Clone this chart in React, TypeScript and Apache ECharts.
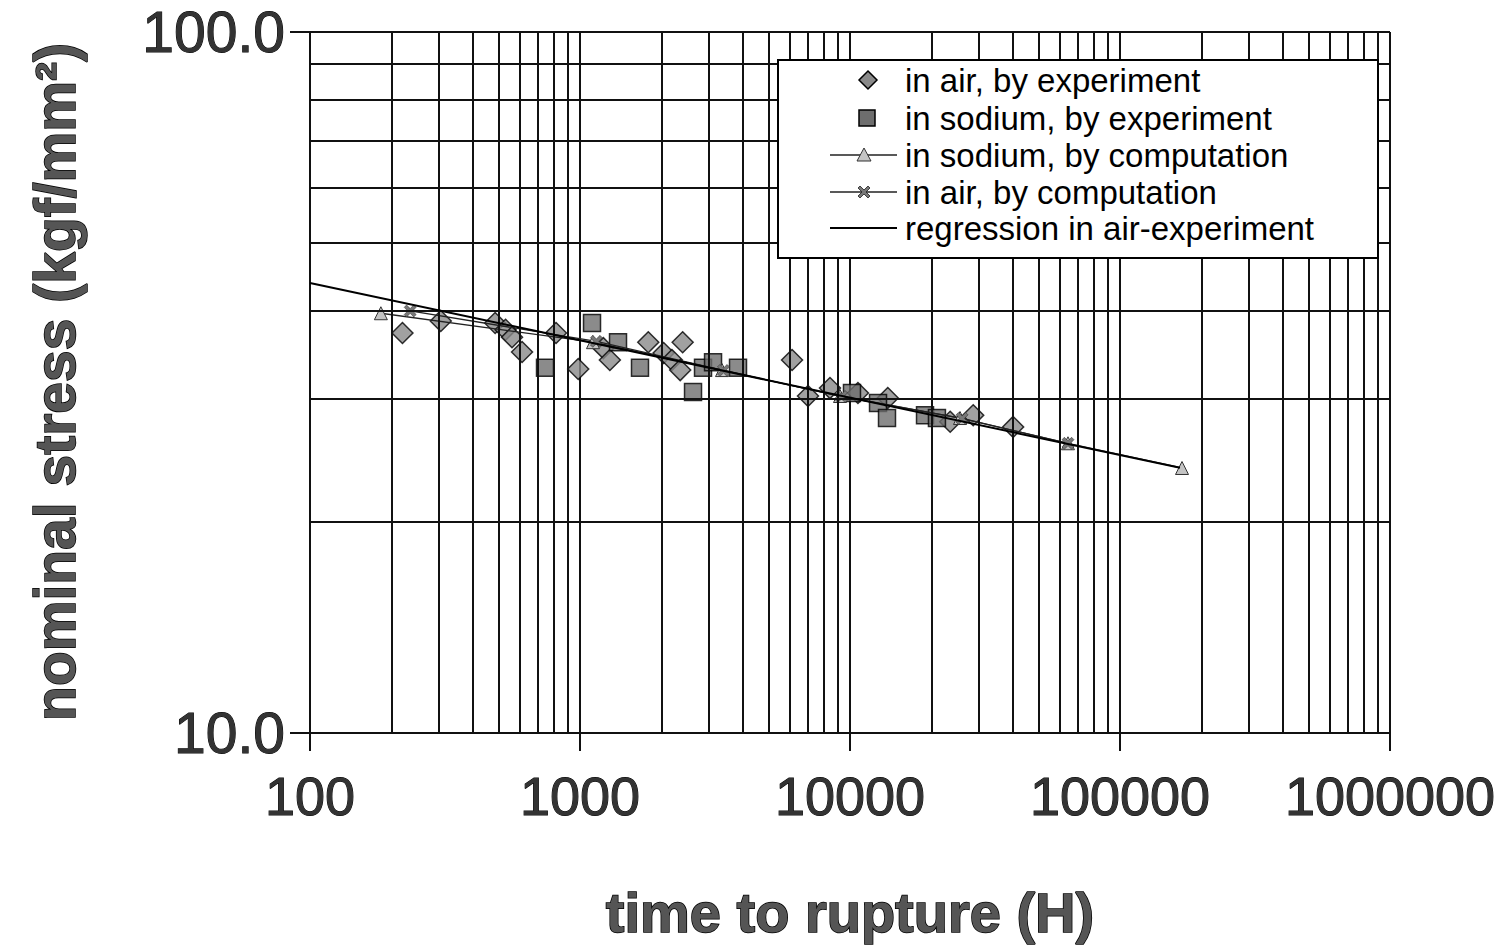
import React, { useEffect, useRef } from "react";
import * as echarts from "echarts";

// ---- data ----
const airExpTime = [220, 305, 485, 530, 560, 610, 815, 985, 1220, 1290, 1790, 2040, 2190, 2350, 2400, 6100, 6990, 8430, 10700, 13800, 23500, 28600, 40200];
const airExpStress = [37.2, 38.7, 38.45, 37.6, 36.7, 34.96, 37.2, 33.05, 35.4, 34.05, 36.1, 34.84, 34.05, 32.94, 36.1, 34.05, 30.25, 31.05, 30.55, 30.05, 27.8, 28.4, 27.33];

const sodiumExpTime = [742, 1108, 1383, 1668, 2622, 2855, 3110, 3848, 10170, 12700, 13710, 18960, 20990];
const sodiumExpStress = [33.2, 38.45, 36.1, 33.2, 30.65, 33.2, 33.8, 33.2, 30.55, 29.56, 28.14, 28.4, 28.14];

const sodiumCompTime = [183, 1117, 3357, 9183, 25550, 64170, 169700];
const sodiumCompStress = [39.7, 36.1, 32.94, 30.25, 28.14, 25.9, 23.88];

const airCompTime = [235, 1150, 3400, 9300, 26000, 64170];
const airCompStress = [40.0, 36.2, 32.9, 30.2, 28.1, 25.9];

const regressionTime = [100, 166800];
const regressionStress = [43.85, 23.9];

const xMinorGrid = [200, 300, 400, 500, 600, 700, 800, 900, 2000, 3000, 4000, 5000, 6000, 7000, 8000, 9000, 20000, 30000, 40000, 50000, 60000, 70000, 80000, 90000, 200000, 300000, 400000, 500000, 600000, 700000, 800000, 900000];
const yMinorGrid = [20, 30, 40, 50, 60, 70, 80, 90];

const seriesNames = [
  "in air, by experiment",
  "in sodium, by experiment",
  "in sodium, by computation",
  "in air, by computation",
  "regression in air-experiment",
];

const xTitle = "time to rupture (H)";
const yTitle = "nominal stress (kgf/mm\u00B2)";

const zip = (a: number[], b: number[]) => a.map((v, i) => [v, b[i]]);

const FONT = '"Liberation Sans", Arial, sans-serif';
const X_SYMBOL = "path://M2,0 L5,3 L8,0 L10,2 L7,5 L10,8 L8,10 L5,7 L2,10 L0,8 L3,5 L0,2 Z";

const DIAMOND_FILL = "#8a8a8a";
const SQUARE_FILL = "#6e6e6e";
const TRI_FILL = "#c4c4c4";
const X_FILL = "#777";

function buildLegend() {
  const boxX = 778, boxY = 60, boxW = 600, boxH = 198;
  const rowY = [80, 118, 155, 192, 228];
  const iconL = 830, iconR = 897, iconC = 864, textX = 905;
  const Z = 100;
  const els: any[] = [
    {
      type: "rect",
      z: Z,
      shape: { x: boxX, y: boxY, width: boxW, height: boxH },
      style: { fill: "#fff", stroke: "#000", lineWidth: 2 },
    },
  ];
  const d = 9;
  els.push({
    type: "polygon",
    z: Z + 1,
    shape: { points: [[iconC + 4, rowY[0] - d], [iconC + 4 + d, rowY[0]], [iconC + 4, rowY[0] + d], [iconC + 4 - d, rowY[0]]] },
    style: { fill: DIAMOND_FILL, stroke: "#000", lineWidth: 1.5 },
  });
  els.push({
    type: "rect",
    z: Z + 1,
    shape: { x: iconC + 3 - 8, y: rowY[1] - 8, width: 16, height: 16 },
    style: { fill: SQUARE_FILL, stroke: "#000", lineWidth: 1.5 },
  });
  els.push({
    type: "line",
    z: Z + 1,
    shape: { x1: iconL, y1: rowY[2], x2: iconR, y2: rowY[2] },
    style: { stroke: "#222", lineWidth: 1.3 },
  });
  els.push({
    type: "polygon",
    z: Z + 2,
    shape: { points: [[iconC, rowY[2] - 7], [iconC + 7, rowY[2] + 6], [iconC - 7, rowY[2] + 6]] },
    style: { fill: TRI_FILL, stroke: "#333", lineWidth: 1 },
  });
  els.push({
    type: "line",
    z: Z + 1,
    shape: { x1: iconL, y1: rowY[3], x2: iconR, y2: rowY[3] },
    style: { stroke: "#222", lineWidth: 1.3 },
  });
  const s = 6;
  els.push({
    type: "polygon",
    z: Z + 2,
    shape: {
      points: [
        [iconC - s, rowY[3] - s + 2], [iconC - s + 2, rowY[3] - s], [iconC, rowY[3] - 2], [iconC + s - 2, rowY[3] - s], [iconC + s, rowY[3] - s + 2],
        [iconC + 2, rowY[3]], [iconC + s, rowY[3] + s - 2], [iconC + s - 2, rowY[3] + s], [iconC, rowY[3] + 2], [iconC - s + 2, rowY[3] + s],
        [iconC - s, rowY[3] + s - 2], [iconC - 2, rowY[3]],
      ],
    },
    style: { fill: X_FILL, stroke: "#222", lineWidth: 0.8 },
  });
  els.push({
    type: "line",
    z: Z + 1,
    shape: { x1: iconL, y1: rowY[4], x2: iconR, y2: rowY[4] },
    style: { stroke: "#000", lineWidth: 2 },
  });
  seriesNames.forEach((name, i) => {
    els.push({
      type: "text",
      z: Z + 1,
      x: textX,
      y: rowY[i],
      style: {
        text: name,
        fontSize: 33,
        fontFamily: FONT,
        fill: "#000",
        align: "left",
        verticalAlign: "middle",
      },
    });
  });
  return els;
}

export default function App() {
  const ref = useRef<HTMLDivElement>(null);
  useEffect(() => {
    document.body.style.margin = "0";
    const chart = echarts.init(ref.current!, null, { renderer: "svg" });
    const gridLine = { color: "#111", width: 2, type: "solid" as const };
    chart.setOption({
      animation: false,
      backgroundColor: "#fff",
      grid: { left: 310, right: 122, top: 32, bottom: 216, containLabel: false },
      xAxis: {
        type: "log",
        logBase: 10,
        min: 100,
        max: 1000000,
        axisLine: { show: true, lineStyle: { color: "#111", width: 2 } },
        axisTick: { show: true, length: 18, lineStyle: { color: "#111", width: 2 } },
        splitLine: { show: true, lineStyle: gridLine },
        minorTick: { show: false },
        axisLabel: {
          fontSize: 54,
          fontFamily: FONT,
          color: "#333",
          textBorderColor: "#000",
          textBorderWidth: 1,
          margin: 36,
          formatter: (v: number) => String(Math.round(v)),
        },
      },
      yAxis: {
        type: "log",
        logBase: 10,
        min: 10,
        max: 100,
        axisLine: { show: true, lineStyle: { color: "#111", width: 2 } },
        axisTick: { show: true, length: 20, lineStyle: { color: "#111", width: 2 } },
        splitLine: { show: true, lineStyle: gridLine },
        axisLabel: {
          fontSize: 57,
          fontFamily: FONT,
          color: "#333",
          textBorderColor: "#000",
          textBorderWidth: 1,
          margin: 25,
          formatter: (v: number) => v.toFixed(1),
        },
      },
      graphic: [
        {
          type: "text",
          x: 850,
          y: 912,
          style: {
            text: xTitle,
            fontSize: 56,
            fontWeight: "bold",
            fontFamily: FONT,
            fill: "#555",
            stroke: "#000",
            lineWidth: 1.5,
            align: "center",
            verticalAlign: "middle",
          },
        },
        {
          type: "text",
          x: 55,
          y: 382,
          rotation: Math.PI / 2,
          style: {
            text: yTitle,
            fontSize: 57,
            fontWeight: "bold",
            fontFamily: FONT,
            fill: "#555",
            stroke: "#000",
            lineWidth: 1.5,
            align: "center",
            verticalAlign: "middle",
          },
        },
        ...buildLegend(),
      ],
      series: [
        {
          name: "minor-grid",
          type: "line",
          data: [],
          silent: true,
          z: 1,
          markLine: {
            silent: true,
            symbol: ["none", "none"],
            label: { show: false },
            lineStyle: gridLine,
            emphasis: { disabled: true },
            data: [
              ...xMinorGrid.map((v) => ({ xAxis: v })),
              ...yMinorGrid.map((v) => ({ yAxis: v })),
            ],
          },
        },
        {
          name: seriesNames[0],
          type: "scatter",
          symbol: "diamond",
          symbolSize: 21,
          z: 3,
          itemStyle: { color: DIAMOND_FILL, borderColor: "#000", borderWidth: 1.5 },
          data: zip(airExpTime, airExpStress),
        },
        {
          name: seriesNames[1],
          type: "scatter",
          symbol: "rect",
          symbolSize: 17,
          z: 3,
          itemStyle: { color: SQUARE_FILL, borderColor: "#000", borderWidth: 1.5 },
          data: zip(sodiumExpTime, sodiumExpStress),
        },
        {
          name: seriesNames[2],
          type: "line",
          symbol: "triangle",
          symbolSize: 13,
          showSymbol: true,
          z: 4,
          lineStyle: { color: "#222", width: 1.3 },
          itemStyle: { color: TRI_FILL, borderColor: "#333", borderWidth: 1 },
          data: zip(sodiumCompTime, sodiumCompStress),
        },
        {
          name: seriesNames[3],
          type: "line",
          symbol: X_SYMBOL,
          symbolSize: 12,
          showSymbol: true,
          z: 4,
          lineStyle: { color: "#222", width: 1.3 },
          itemStyle: { color: X_FILL, borderColor: "#222", borderWidth: 0.5 },
          data: zip(airCompTime, airCompStress),
        },
        {
          name: seriesNames[4],
          type: "line",
          symbol: "none",
          z: 5,
          lineStyle: { color: "#000", width: 2 },
          itemStyle: { color: "#000" },
          data: zip(regressionTime, regressionStress),
        },
      ],
    });
    return () => chart.dispose();
  }, []);
  return <div ref={ref} style={{ width: 1512, height: 949 }} />;
}
